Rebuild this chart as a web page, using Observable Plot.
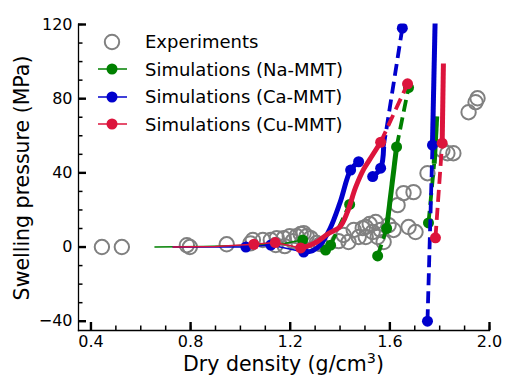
<!DOCTYPE html>
<html>
<head>
<meta charset="utf-8">
<script src="https://cdn.jsdelivr.net/npm/d3@7"></script>
<script src="https://cdn.jsdelivr.net/npm/@observablehq/plot@0.6"></script>
<style>
  html, body { margin: 0; padding: 0; background: #fff; }
  #wrap { position: relative; width: 505px; height: 378px; font-family: "DejaVu Sans", sans-serif; color: #000; overflow: hidden; }
  #legend { position: absolute; left: 96px; top: 28px; font-size: 18px; }
  #legend .row { display: flex; align-items: center; height: 27.5px; }
  #legend svg { width: 34px; height: 20px; margin-right: 15px; overflow: visible; }
  .axtitle { position: absolute; font-size: 20.5px; white-space: nowrap; line-height: 24px; }
  #xtitle { left: 283.5px; top: 352px; transform: translateX(-50%); }
  #ytitle { left: 22px; top: 178px; transform: translate(-50%, -50%) rotate(-90deg); }
  #xtitle sup { font-size: 70%; vertical-align: 0.55em; line-height: 0; }
</style>
</head>
<body>
<div id="wrap">
  <div id="legend"></div>
  <div class="axtitle" id="xtitle"></div>
  <div class="axtitle" id="ytitle"></div>
</div>
<script>
// ---------------- data ----------------
const seriesNames = ["Experiments", "Simulations (Na-MMT)", "Simulations (Ca-MMT)", "Simulations (Cu-MMT)"];
const seriesColors = ["#808080", "#008000", "#0000cd", "#dc143c"];
const xTitle = ["Dry density (g/cm", "3", ")"];
const yTitle = "Swelling pressure (MPa)";

// Experiments: dry density (g/cm3), swelling pressure (MPa)
const expDensity = [0.444, 0.524, 0.785, 0.797, 0.945, 1.040, 1.050, 1.090, 1.122, 1.142, 1.146, 1.174, 1.178, 1.198,
  1.210, 1.226, 1.242, 1.254, 1.266, 1.282, 1.306, 1.322, 1.394, 1.414, 1.434, 1.455, 1.475, 1.491, 1.503, 1.503,
  1.519, 1.531, 1.543, 1.551, 1.563, 1.575, 1.595, 1.615, 1.631, 1.655, 1.675, 1.695, 1.703, 1.751, 1.811, 1.831,
  1.855, 1.916, 1.944, 1.952];
const expPressure = [0.0, 0.0, 1.0, 0.0, 1.5, 2.0, 3.8, 3.8, 3.8, 1.1, 4.8, 4.8, 0.5, 5.9,
  3.2, 5.9, 7.0, 7.5, 5.9, 4.8, 2.2, 1.6, 3.2, 6.5, 2.7, 9.2, 5.4, 10.2, 5.4, 10.8,
  12.4, 8.1, 13.5, 5.4, 9.2, 2.7, 11.8, 9.2, 22.6, 29.1, 10.8, 29.6, 8.1, 39.8, 52.2, 50.6,
  50.6, 72.7, 78.1, 80.2];

// Simulations: density, pressure, segment (style-id), marker flag
const naDensity  = [0.657, 0.85, 1.05, 1.18, 1.25,   1.342, 1.362,   1.362, 1.4385,   1.551, 1.587,   1.587, 1.627,   1.627, 1.675,   1.755, 1.778,   1.778, 1.788];
const naPressure = [0.0, 0.3, 1.0, 2.0, 3.8,         -1.6, 1.0,      1.0, 23.0,       -4.8, 10.0,     10.0, 54.0,     54.0, 86.0,     13.0, 45.0,     45.0, 70.5];
const naSegment  = ["thin-1","thin-1","thin-1","thin-1","thin-1", "solid-2","solid-2", "dash-3","dash-3", "dash-4","dash-4", "solid-5","solid-5", "dash-6","dash-6", "dash-7","dash-7", "solid-8","solid-8"];
const naMarked   = [0,0,0,0,1, 1,1, 0,1, 1,1, 0,1, 0,1, 1,0, 0,0];

const caDensity  = [0.73, 0.88, 1.022, 1.122, 1.254,   1.254, 1.29, 1.32, 1.36, 1.40, 1.4425, 1.4746,   1.531, 1.563, 1.575,   1.575, 1.650,   1.751, 1.771,   1.771, 1.783];
const caPressure = [0.0, 0.0, 0.0, 1.1, -2.7,          -2.7, -2.0, 1.0, 10.0, 24.0, 41.5, 46.0,        38.0, 42.5, 54.0,      54.0, 118.0,    -40.0, 55.0,    55.0, 130.0];
const caSegment  = ["thin-1","thin-1","thin-1","thin-1","thin-1", "solid-2","solid-2","solid-2","solid-2","solid-2","solid-2","solid-2", "solid-3","solid-3","solid-3", "dash-4","dash-4", "dash-5","dash-5", "solid-6","solid-6"];
const caMarked   = [0,0,1,1,0, 1,0,0,0,0,1,1, 1,1,0, 0,1, 1,1, 0,0];

const cuDensity  = [0.73, 0.90, 1.054, 1.14, 1.242,   1.242, 1.27, 1.31, 1.35, 1.40, 1.43, 1.462, 1.495, 1.523, 1.563,   1.563, 1.671,   1.783, 1.810,   1.810, 1.815];
const cuPressure = [0.0, 0.3, 1.5, 2.4, -0.5,         -0.5, 0.5, 3.0, 7.0, 11.0, 19.0, 32.0, 42.0, 48.0, 56.5,         56.5, 88.0,     5.0, 56.0,      56.0, 99.0];
const cuSegment  = ["thin-1","thin-1","thin-1","thin-1","thin-1", "solid-2","solid-2","solid-2","solid-2","solid-2","solid-2","solid-2","solid-2","solid-2","solid-2", "dash-3","dash-3", "dash-4","dash-4", "solid-5","solid-5"];
const cuMarked   = [0,0,1,1,0, 1,0,0,0,0,0,0,0,0,1, 0,1, 1,1, 0,0];

// axis ticks
const xMajorTicks = [0.4, 0.8, 1.2, 1.6, 2.0];
const xMinorTicks = [0.4, 0.5, 0.6, 0.7, 0.8, 0.9, 1.0, 1.1, 1.2, 1.3, 1.4, 1.5, 1.6, 1.7, 1.8, 1.9, 2.0];
const yMajorTicks = [-40, 0, 40, 80, 120];
const yMinorTicks = [-40, -30, -20, -10, 0, 10, 20, 30, 40, 50, 60, 70, 80, 90, 100, 110, 120];

// ---------------- build ----------------
const W = 505, H = 378, mL = 78, mR = 16, mT = 24, mB = 48;
const plotW = W - mL - mR, plotH = H - mT - mB;

function table(series, dens, pres, seg, mark) {
  return dens.map((d, i) => ({series, density: d, pressure: pres[i], segment: seg[i], marked: mark[i] === 1}));
}
const sims = [
  {rows: table(seriesNames[1], naDensity, naPressure, naSegment, naMarked), color: seriesColors[1]},
  {rows: table(seriesNames[2], caDensity, caPressure, caSegment, caMarked), color: seriesColors[2]},
  {rows: table(seriesNames[3], cuDensity, cuPressure, cuSegment, cuMarked), color: seriesColors[3]}
];
const experiments = expDensity.map((d, i) => ({density: d, pressure: expPressure[i]}));

const simMarks = [];
for (const s of sims) {
  const thin = s.rows.filter(r => r.segment.startsWith("thin"));
  const solid = s.rows.filter(r => r.segment.startsWith("solid"));
  const dash = s.rows.filter(r => r.segment.startsWith("dash"));
  simMarks.push(
    Plot.line(thin, {x: "density", y: "pressure", z: "segment", stroke: s.color, strokeWidth: 1.5}),
    Plot.line(solid, {x: "density", y: "pressure", z: "segment", stroke: s.color, strokeWidth: 5, curve: "catmull-rom", strokeLinecap: "butt"}),
    Plot.line(dash, {x: "density", y: "pressure", z: "segment", stroke: s.color, strokeWidth: 3.8, strokeDasharray: "12,6", strokeLinecap: "butt"}),
    Plot.dot(s.rows.filter(r => r.marked), {x: "density", y: "pressure", r: 5.5, fill: s.color, stroke: "none"})
  );
}

const chart = Plot.plot({
  width: W, height: H,
  marginLeft: mL, marginRight: mR, marginTop: mT, marginBottom: mB,
  style: {fontFamily: "DejaVu Sans, sans-serif", color: "#000", background: "#fff", overflow: "hidden"},
  x: {domain: [0.35, 2.0]},
  y: {domain: [-45, 120]},
  marks: [
    Plot.dot(experiments, {x: "density", y: "pressure", r: 7.2, stroke: seriesColors[0], strokeWidth: 2, fill: "none"}),
    ...simMarks,
    // spines
    Plot.frame({anchor: "left", stroke: "#000", strokeWidth: 1.3}),
    Plot.frame({anchor: "bottom", stroke: "#000", strokeWidth: 1.3}),
    // inward ticks
    Plot.tickX(xMinorTicks, {x: d => d, insetTop: plotH - 4.5, stroke: "#000", strokeWidth: 1.5}),
    Plot.tickX(xMajorTicks, {x: d => d, insetTop: plotH - 8, stroke: "#000", strokeWidth: 2.4}),
    Plot.tickY(yMinorTicks, {y: d => d, insetRight: plotW - 4.5, stroke: "#000", strokeWidth: 1.5}),
    Plot.tickY(yMajorTicks, {y: d => d, insetRight: plotW - 8, stroke: "#000", strokeWidth: 2.4}),
    // tick labels
    Plot.axisX({ticks: xMajorTicks, tickSize: 0, tickPadding: 5, fontSize: 16, tickFormat: d3.format(".1f"), label: null}),
    Plot.axisY({ticks: yMajorTicks, tickSize: 0, tickPadding: 6, fontSize: 16, label: null})
  ]
});
// clip data lines to the frame
chart.querySelectorAll("g[aria-label='line'], g[aria-label='dot']").forEach(g => g.setAttribute("clip-path", "url(#plotclip)"));
const defs = document.createElementNS("http://www.w3.org/2000/svg", "defs");
defs.innerHTML = `<clipPath id="plotclip"><rect x="${mL}" y="${mT - 1}" width="${plotW + 1}" height="${plotH + 1}"></rect></clipPath>`;
chart.insertBefore(defs, chart.firstChild);

const wrap = document.getElementById("wrap");
wrap.insertBefore(chart, wrap.firstChild);

// axis titles
document.getElementById("xtitle").innerHTML = `${xTitle[0]}<sup>${xTitle[1]}</sup>${xTitle[2]}`;
document.getElementById("ytitle").textContent = yTitle;

// legend
const legend = document.getElementById("legend");
seriesNames.forEach((name, i) => {
  const row = document.createElement("div");
  row.className = "row";
  const c = seriesColors[i];
  const sw = i === 0
    ? `<svg viewBox="0 0 34 20"><circle cx="16" cy="10" r="7.2" fill="none" stroke="${c}" stroke-width="2"/></svg>`
    : `<svg viewBox="0 0 34 20"><line x1="2" y1="10" x2="31" y2="10" stroke="${c}" stroke-width="1.5"/><circle cx="16" cy="10" r="5.5" fill="${c}"/></svg>`;
  row.innerHTML = sw + `<span>${name}</span>`;
  legend.appendChild(row);
});
</script>
</body>
</html>
